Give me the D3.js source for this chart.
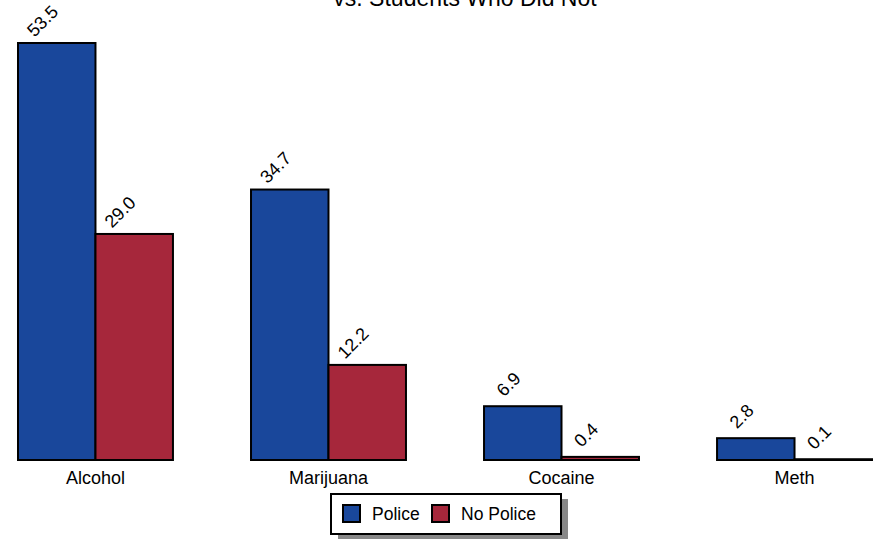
<!DOCTYPE html>
<html>
<head>
<meta charset="utf-8">
<script src="https://cdn.jsdelivr.net/npm/d3@7"></script>
<style>
  body { margin: 0; background: #fff; }
  text { font-family: "Liberation Sans", Arial, sans-serif; fill: #000; }
</style>
</head>
<body>
<div class="canvas"></div>
<script>
const WIDTH = 878;
const HEIGHT = 539;

// data
const categories = ['Alcohol', 'Marijuana', 'Cocaine', 'Meth'];
const seriesNames = ['Police', 'No Police'];
const police = [53.5, 34.7, 6.9, 2.8];
const noPolice = [29.0, 12.2, 0.4, 0.1];
const titleLine = 'vs. Students Who Did Not';

// colors
const blue = '#19479b';
const red = '#a6273b';
const colors = [blue, red];

const svg = d3.select('.canvas')
  .append('svg')
    .attr('width', WIDTH)
    .attr('height', HEIGHT);

// scales
const x0 = d3.scaleBand()
  .domain(categories)
  .range([18, 872])
  .paddingInner(0.335)
  .paddingOuter(0);

const x1 = d3.scaleBand()
  .domain(seriesNames)
  .range([0, x0.bandwidth()]);

const y = d3.scaleLinear()
  .domain([0, d3.max(police.concat(noPolice))])
  .range([460, 43]);

const rows = categories.map((c, i) => ({
  category: c,
  values: [
    { key: seriesNames[0], value: police[i] },
    { key: seriesNames[1], value: noPolice[i] }
  ]
}));

// title (only its second line shows at the top edge)
svg.append('text')
  .attr('x', 465)
  .attr('y', 6)
  .attr('text-anchor', 'middle')
  .attr('font-size', 23)
  .text(titleLine);

// bars
const groups = svg.selectAll('g.group')
  .data(rows)
  .enter().append('g')
    .attr('class', 'group')
    .attr('transform', d => `translate(${x0(d.category)}, 0)`);

groups.selectAll('rect')
  .data(d => d.values)
  .enter().append('rect')
    .attr('x', d => x1(d.key))
    .attr('y', d => y(d.value))
    .attr('width', x1.bandwidth())
    .attr('height', d => y(0) - y(d.value))
    .attr('fill', (d, i) => colors[i])
    .attr('stroke', '#000')
    .attr('stroke-width', 2);

// value labels, rotated
groups.selectAll('text.value')
  .data(d => d.values)
  .enter().append('text')
    .attr('class', 'value')
    .attr('text-anchor', 'middle')
    .attr('dominant-baseline', 'middle')
    .attr('font-size', 18)
    .attr('transform', d => {
      const cx = x1(d.key) + x1.bandwidth() * 0.33;
      const cy = y(d.value) - 21;
      return `translate(${cx}, ${cy}) rotate(-45)`;
    })
    .text(d => d.value.toFixed(1));

// category labels
const xAxis = d3.axisBottom(x0).tickSize(0).tickPadding(0);
const xAxisGroup = svg.append('g')
  .attr('transform', 'translate(0, 470)')
  .call(xAxis);
xAxisGroup.select('.domain').remove();
xAxisGroup.selectAll('text')
  .attr('font-size', 18)
  .attr('font-family', '"Liberation Sans", Arial, sans-serif')
  .attr('fill', '#000')
  .attr('dy', '0.78em');

// legend
const legend = svg.append('g')
  .attr('transform', 'translate(331, 494)');

legend.append('rect')
  .attr('x', 7).attr('y', 5)
  .attr('width', 230).attr('height', 40)
  .attr('fill', '#888');

legend.append('rect')
  .attr('width', 230).attr('height', 40)
  .attr('fill', '#fff')
  .attr('stroke', '#000')
  .attr('stroke-width', 2);

const legendX = [12, 101];
seriesNames.forEach((name, i) => {
  legend.append('rect')
    .attr('x', legendX[i]).attr('y', 11)
    .attr('width', 17).attr('height', 17)
    .attr('fill', colors[i])
    .attr('stroke', '#000')
    .attr('stroke-width', 2);
  legend.append('text')
    .attr('x', legendX[i] + 29)
    .attr('y', 26)
    .attr('font-size', 17.5)
    .text(name);
});
</script>
</body>
</html>
